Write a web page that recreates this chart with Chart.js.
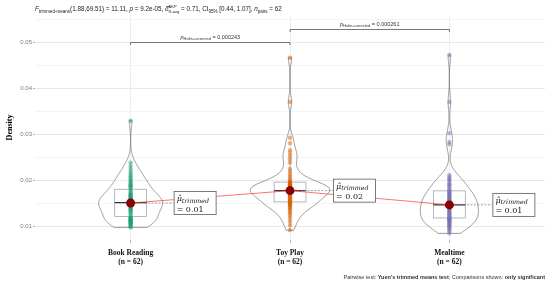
<!DOCTYPE html>
<html>
<head>
<meta charset="utf-8">
<script src="https://cdn.jsdelivr.net/npm/chart.js@4"></script>
<style>
  html, body { margin: 0; padding: 0; background: #fff; }
</style>
</head>
<body>
<canvas id="c" width="550" height="286"></canvas>
<script>
// 類別與樣本數
const categories = ['Book Reading', 'Toy Play', 'Mealtime'];
const groupN = [62, 62, 62];

// 各情境的 density 觀測值（由圖讀出，各 62 筆）
const bookReading = [
  0.0097, 0.0099, 0.0101, 0.0103, 0.0105, 0.0106, 0.0108, 0.0109, 0.0110, 0.0112,
  0.0113, 0.0114, 0.0116, 0.0117, 0.0118, 0.0120, 0.0124, 0.0128, 0.0131, 0.0134,
  0.0136, 0.0138, 0.0140, 0.0142, 0.0143, 0.0145, 0.0146, 0.0147, 0.0148, 0.0149,
  0.0150, 0.0152, 0.0153, 0.0154, 0.0155, 0.0157, 0.0158, 0.0160, 0.0161, 0.0163,
  0.0165, 0.0167, 0.0169, 0.0171, 0.0174, 0.0177, 0.0181, 0.0185, 0.0186, 0.0188,
  0.0191, 0.0194, 0.0197, 0.0200, 0.0204, 0.0208, 0.0212, 0.0217, 0.0223, 0.0230,
  0.0238, 0.0329,
];
const toyPlay = [
  0.0091, 0.0102, 0.0110, 0.0117, 0.0123, 0.0128, 0.0132, 0.0136, 0.0139, 0.0142,
  0.0144, 0.0146, 0.0148, 0.0150, 0.0151, 0.0152, 0.0154, 0.0156, 0.0158, 0.0160,
  0.0162, 0.0164, 0.0166, 0.0168, 0.0170, 0.0171, 0.0172, 0.0173, 0.0174, 0.0175,
  0.0176, 0.0178, 0.0179, 0.0180, 0.0181, 0.0182, 0.0183, 0.0184, 0.0185, 0.0186,
  0.0188, 0.0189, 0.0190, 0.0191, 0.0193, 0.0194, 0.0196, 0.0198, 0.0202, 0.0207,
  0.0212, 0.0218, 0.0224, 0.0238, 0.0245, 0.0252, 0.0259, 0.0265, 0.0280, 0.0292,
  0.0370, 0.0466,
];
const mealtime = [
  0.0084, 0.0088, 0.0092, 0.0095, 0.0098, 0.0100, 0.0102, 0.0104, 0.0106, 0.0108,
  0.0110, 0.0112, 0.0113, 0.0115, 0.0116, 0.0117, 0.0119, 0.0121, 0.0123, 0.0125,
  0.0127, 0.0129, 0.0131, 0.0133, 0.0135, 0.0137, 0.0139, 0.0141, 0.0143, 0.0144,
  0.0145, 0.0147, 0.0149, 0.0151, 0.0153, 0.0155, 0.0157, 0.0159, 0.0161, 0.0163,
  0.0165, 0.0167, 0.0169, 0.0171, 0.0173, 0.0175, 0.0177, 0.0180, 0.0184, 0.0188,
  0.0190, 0.0193, 0.0198, 0.0201, 0.0203, 0.0207, 0.0211, 0.0278, 0.0283, 0.0302,
  0.0370, 0.0472,
];
const groups = [bookReading, toyPlay, mealtime];

// 20% 截尾平均與標籤
const trimmedMeans = [0.0150, 0.0177, 0.0146];
const meanLabels = ['0.01', '0.02', '0.01'];

// y 軸刻度
const majorTicks = [0.01, 0.02, 0.03, 0.04, 0.05];
const minorTicks = [0.015, 0.025, 0.035, 0.045, 0.055];

// 成對比較（只顯示顯著者）
const pairs = [[1, 2], [2, 3]];
const pairP = ['0.000243', '0.000261'];
const bracketY = [0.0501, 0.0529];

const SANS = '"Liberation Sans", Arial, sans-serif';
const SERIF = '"Liberation Serif", "Times New Roman", serif';
const MATH = '"DejaVu Serif", serif';

// Dark2 調色盤（半透明點）
const POINT_COLORS = ['rgba(27,158,119,0.5)', 'rgba(217,95,2,0.5)', 'rgba(117,112,179,0.5)'];

const isMajor = (v) => majorTicks.some((t) => Math.abs(t - v) < 1e-9);

// R type-7 分位數
function quantile(sorted, p) {
  const h = (sorted.length - 1) * p;
  const lo = Math.floor(h);
  const hi = Math.min(sorted.length - 1, lo + 1);
  return sorted[lo] + (h - lo) * (sorted[hi] - sorted[lo]);
}

// 高斯 KDE（bw.nrd0，修剪至資料範圍，同 ggplot 的 violin）
function kde(vals) {
  const s = [...vals].sort((a, b) => a - b);
  const n = s.length;
  const mean = s.reduce((a, b) => a + b, 0) / n;
  const sd = Math.sqrt(s.reduce((a, b) => a + (b - mean) ** 2, 0) / (n - 1));
  const iqr = quantile(s, 0.75) - quantile(s, 0.25);
  const bw = 0.9 * Math.min(sd, iqr / 1.34) * Math.pow(n, -0.2);
  const lo = s[0], hi = s[n - 1];
  const out = [];
  for (let k = 0; k <= 256; k++) {
    const y = lo + (hi - lo) * k / 256;
    let d = 0;
    for (const v of s) { const z = (y - v) / bw; d += Math.exp(-0.5 * z * z); }
    out.push([y, d / (n * bw * Math.sqrt(2 * Math.PI))]);
  }
  return out;
}

// 帶上下標的文字
function richRun(ctx, x, y, parts, draw) {
  let cx = x, held = 0;
  for (const p of parts) {
    ctx.font = `${p.st || ''} ${p.s}px ${p.f || SANS}`;
    const w = ctx.measureText(p.t).width;
    if (draw) ctx.fillText(p.t, cx, y + (p.dy || 0));
    if (p.keep) { held = Math.max(held, w); } else { cx += Math.max(w, held); held = 0; }
  }
  return cx - x;
}

const violinPlugin = {
  id: 'violins',
  beforeDatasetsDraw(chart) {
    const { ctx, scales: { x, y } } = chart;
    const dens = groups.map(kde);
    const maxD = Math.max(...dens.flat().map((p) => p[1]));
    ctx.save();
    dens.forEach((d, i) => {
      const cx = x.getPixelForValue(i + 1);
      const unit = x.getPixelForValue(i + 1.25) - cx;
      // violin
      ctx.beginPath();
      d.forEach(([v, den], k) => {
        const px = cx + unit * den / maxD;
        k ? ctx.lineTo(px, y.getPixelForValue(v)) : ctx.moveTo(px, y.getPixelForValue(v));
      });
      for (let k = d.length - 1; k >= 0; k--) {
        ctx.lineTo(cx - unit * d[k][1] / maxD, y.getPixelForValue(d[k][0]));
      }
      ctx.closePath();
      ctx.fillStyle = 'rgba(255,255,255,0.2)';
      ctx.fill();
      ctx.strokeStyle = '#6e6e6e';
      ctx.lineWidth = 0.7;
      ctx.stroke();

      // box
      const s = [...groups[i]].sort((a, b) => a - b);
      const q1 = quantile(s, 0.25), q2 = quantile(s, 0.5), q3 = quantile(s, 0.75);
      const iqr = q3 - q1;
      const wLo = s.find((v) => v >= q1 - 1.5 * iqr);
      const wHi = [...s].reverse().find((v) => v <= q3 + 1.5 * iqr);
      const bw = x.getPixelForValue(i + 1.1) - cx;
      ctx.strokeStyle = '#a6a6a6';
      ctx.lineWidth = 0.8;
      ctx.strokeRect(cx - bw, y.getPixelForValue(q3), bw * 2, y.getPixelForValue(q1) - y.getPixelForValue(q3));
      ctx.beginPath();
      ctx.moveTo(cx, y.getPixelForValue(q3)); ctx.lineTo(cx, y.getPixelForValue(wHi));
      ctx.moveTo(cx, y.getPixelForValue(q1)); ctx.lineTo(cx, y.getPixelForValue(wLo));
      ctx.stroke();
      ctx.strokeStyle = '#333';
      ctx.lineWidth = 1.2;
      ctx.beginPath();
      ctx.moveTo(cx - bw, y.getPixelForValue(q2)); ctx.lineTo(cx + bw, y.getPixelForValue(q2));
      ctx.stroke();

      // 平均值至標籤的虛線
      const my = y.getPixelForValue(trimmedMeans[i]);
      ctx.strokeStyle = '#7a7a7a';
      ctx.lineWidth = 0.7;
      ctx.setLineDash([2, 1.5]);
      ctx.beginPath();
      ctx.moveTo(cx, my); ctx.lineTo(cx + 43, my);
      ctx.stroke();
      ctx.setLineDash([]);
    });
    ctx.restore();
  },
};

const textPlugin = {
  id: 'texts',
  afterDraw(chart) {
    const { ctx, scales: { x, y } } = chart;
    ctx.save();
    ctx.textBaseline = 'alphabetic';

    // 平均值標籤框
    trimmedMeans.forEach((m, i) => {
      const cx = x.getPixelForValue(i + 1);
      const my = y.getPixelForValue(m);
      const left = cx + 43, top = my - 12;
      ctx.fillStyle = '#fff';
      ctx.fillRect(left, top, 43, 24);
      ctx.strokeStyle = '#5a5a5a';
      ctx.lineWidth = 0.8;
      ctx.strokeRect(left + 0.5, top + 0.5, 42, 23);
      ctx.fillStyle = '#111';
      richRun(ctx, left + 3, top + 10, [
        { t: 'μ̂', s: 8, st: 'italic', f: MATH },
        { t: 'trimmed', s: 6.3, st: 'italic', f: MATH, dy: 1.5 },
      ], true);
      richRun(ctx, left + 3, top + 20.5, [{ t: `= ${meanLabels[i]}`, s: 8, f: MATH }], true);
    });

    // 比較括號
    pairs.forEach((pr, k) => {
      const x1 = x.getPixelForValue(pr[0]), x2 = x.getPixelForValue(pr[1]);
      const by = Math.round(y.getPixelForValue(bracketY[k])) + 0.5;
      ctx.strokeStyle = '#555';
      ctx.lineWidth = 0.8;
      ctx.beginPath();
      ctx.moveTo(x1, by + 2.5); ctx.lineTo(x1, by); ctx.lineTo(x2, by); ctx.lineTo(x2, by + 2.5);
      ctx.stroke();
      const parts = [
        { t: 'p', s: 5.5, st: 'italic' },
        { t: 'Holm-corrected', s: 4, dy: 1.2 },
        { t: ` = ${pairP[k]}`, s: 5.5 },
      ];
      const w = richRun(ctx, 0, 0, parts, false);
      ctx.fillStyle = '#333';
      richRun(ctx, (x1 + x2) / 2 - w / 2, by - 3.5, parts, true);
    });

    // 標題
    ctx.fillStyle = '#222';
    richRun(ctx, 35, 11, [
      { t: 'F', s: 6.3, st: 'italic' },
      { t: 'trimmed-means', s: 4.5, dy: 1.5 },
      { t: '(1.88,69.51) = 11.11, ', s: 6.3 },
      { t: 'p', s: 6.3, st: 'italic' },
      { t: ' = 9.2e-05, ', s: 6.3 },
      { t: 'δ̂', s: 6.3, st: 'italic' },
      { t: 'AKP', s: 4, dy: -3, keep: true },
      { t: 'R-avg', s: 4, dy: 1.8 },
      { t: ' = 0.71, CI', s: 6.3 },
      { t: '95%', s: 4.5, dy: 1.5 },
      { t: ' [0.44, 1.07], ', s: 6.3 },
      { t: 'n', s: 6.3, st: 'italic' },
      { t: 'pairs', s: 4.5, dy: 1.5 },
      { t: ' = 62', s: 6.3 },
    ], true);

    // 右下說明
    const cap = [
      { t: 'Pairwise test: ', s: 5.5 },
      { t: "Yuen's trimmed means test", s: 5.5, st: 'bold' },
      { t: '; Comparisons shown: ', s: 5.5 },
      { t: 'only significant', s: 5.5, st: 'bold' },
    ];
    const cw = richRun(ctx, 0, 0, cap, false);
    ctx.fillStyle = '#333';
    richRun(ctx, 545 - cw, 279, cap, true);
    ctx.restore();
  },
};

new Chart(document.getElementById('c'), {
  type: 'scatter',
  data: {
    datasets: [
      {
        type: 'line',
        data: trimmedMeans.map((m, i) => ({ x: i + 1, y: m })),
        borderColor: 'rgba(255,40,40,0.65)',
        borderWidth: 1,
        pointRadius: 4.5,
        pointBackgroundColor: '#8B0000',
        pointBorderWidth: 0,
        tension: 0,
      },
      ...groups.map((g, i) => ({
        data: g.map((v) => ({ x: i + 1, y: v })),
        pointRadius: 2.2,
        backgroundColor: POINT_COLORS[i],
        borderWidth: 0,
      })),
    ],
  },
  options: {
    responsive: false,
    animation: false,
    events: [],
    layout: { padding: { top: 15, right: 5, left: 0, bottom: 0 } },
    plugins: { legend: { display: false }, tooltip: { enabled: false } },
    scales: {
      x: {
        type: 'linear',
        min: 0.4,
        max: 3.6,
        afterBuildTicks: (s) => { s.ticks = [1, 2, 3].map((v) => ({ value: v })); },
        afterFit: (s) => { s.height = 46; },
        grid: { color: '#ececec', lineWidth: 1, tickLength: 3, tickColor: '#b5b5b5' },
        border: { display: false },
        ticks: {
          autoSkip: false,
          maxRotation: 0,
          padding: 6,
          color: '#111',
          font: { family: SERIF, size: 7.5, weight: 'bold', lineHeight: 1.2 },
          callback: (v) => [categories[v - 1], `(n = ${groupN[v - 1]})`],
        },
      },
      y: {
        min: 0.00696,
        max: 0.0559,
        afterBuildTicks: (s) => {
          s.ticks = [...majorTicks, ...minorTicks].sort((a, b) => a - b).map((v) => ({ value: v }));
        },
        afterFit: (s) => { s.width = 35; },
        grid: {
          color: (c) => (c.tick && isMajor(c.tick.value) ? '#e8e8e8' : '#f4f4f4'),
          tickColor: (c) => (c.tick && isMajor(c.tick.value) ? '#b5b5b5' : 'rgba(0,0,0,0)'),
          tickLength: 2,
        },
        border: { display: false },
        ticks: {
          padding: 1,
          color: '#7a7a7a',
          font: { family: SANS, size: 6 },
          callback: (v) => (isMajor(v) ? v.toFixed(2) : ''),
        },
        title: {
          display: true,
          text: 'Density',
          color: '#000',
          font: { family: SERIF, size: 8, weight: 'bold' },
          padding: { top: 5, bottom: 0 },
        },
      },
    },
  },
  plugins: [violinPlugin, textPlugin],
});
</script>
</body>
</html>
